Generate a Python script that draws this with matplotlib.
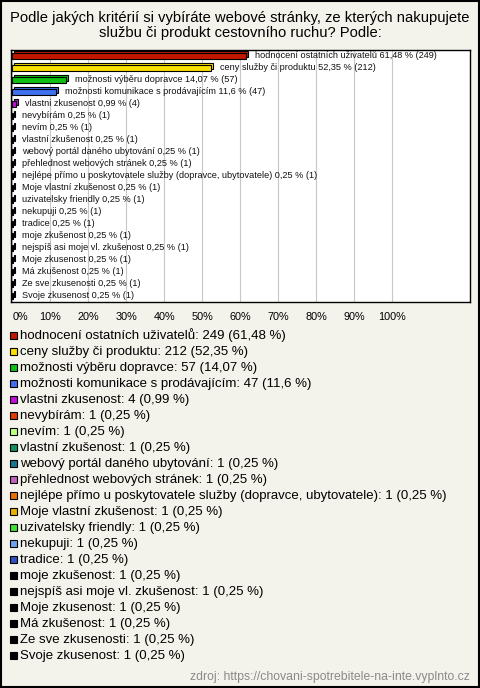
import matplotlib
matplotlib.use("Agg")
import matplotlib.pyplot as plt
from matplotlib.patches import Rectangle
import matplotlib.transforms as mtransforms

plt.rcParams['font.family'] = ['Liberation Sans', 'DejaVu Sans']

title_lines = ["Podle jakých kritérií si vybíráte webové stránky, ze kterých nakupujete",
               "službu či produkt cestovního ruchu? Podle:"]

labels = ["hodnocení ostatních uživatelů", "ceny služby či produktu",
          "možnosti výběru dopravce", "možnosti komunikace s prodávajícím",
          "vlastni zkusenost", "nevybírám", "nevím", "vlastní zkušenost",
          "webový portál daného ubytování", "přehlednost webových stránek",
          "nejlépe přímo u poskytovatele služby (dopravce, ubytovatele)",
          "Moje vlastní zkušenost", "uzivatelsky friendly", "nekupuji", "tradice",
          "moje zkušenost", "nejspíš asi moje vl. zkušenost", "Moje zkusenost",
          "Má zkušenost", "Ze sve zkusenosti", "Svoje zkusenost"]
counts = [249, 212, 57, 47, 4] + [1] * 16
percents = [61.48, 52.35, 14.07, 11.6, 0.99] + [0.25] * 16
colors = ["#c01800", "#f8e000", "#10c010", "#4070f0", "#c010d8", "#e03c00",
          "#c0ff80", "#109060", "#187890", "#c060c0", "#e87000", "#e8b000",
          "#40e030", "#70a0f0", "#3050c0"] + ["#000000"] * 6
xticks = list(range(0, 101, 10))
source = "zdroj: https://chovani-spotrebitele-na-inte.vyplnto.cz"


def fmt(p):
    return ("%.2f" % p).rstrip('0').rstrip('.').replace('.', ',')


W, H = 480, 688
fig = plt.figure(figsize=(W / 100, H / 100), dpi=100)
fig.patch.set_facecolor('#f4f3eb')

# overlay in pixel coordinates for title, legend, source, border
bg = fig.add_axes([0, 0, 1, 1])
bg.set_xlim(0, W)
bg.set_ylim(H, 0)
bg.axis('off')
bg.add_patch(Rectangle((0.75, 0.75), W - 1.5, H - 1.5, fill=False, ec='black', lw=1.5))
bg.text(240, 18, title_lines[0], ha='center', va='center', fontsize=10.6)
bg.text(240, 33, title_lines[1], ha='center', va='center', fontsize=10.6)

# bar chart
ax = fig.add_axes([11 / W, 1 - 302 / H, 459 / W, 252 / H])
ax.set_facecolor('white')
ypos = list(range(len(labels)))
depth = mtransforms.ScaledTranslation(2 / 100, 2 / 100, fig.dpi_scale_trans)
ax.barh(ypos, percents, height=0.42, color=colors, edgecolor='black', lw=0.8,
        transform=ax.transData + depth, zorder=2)
ax.barh(ypos, percents, height=0.42, color=colors, edgecolor='black', lw=0.8, zorder=3)
for y, lab, p, c in zip(ypos, labels, percents, counts):
    ax.annotate("%s %s %% (%d)" % (lab, fmt(p), c), xy=(p, y), xytext=(9, 1),
                textcoords='offset pixels', va='center', ha='left', fontsize=6.6,
                color='#111111')
ax.set_xlim(-0.3, 120.5)
ax.set_ylim(len(labels) - 0.5, -0.5)
ax.set_xticks(xticks)
ax.set_xticklabels(["%d%%" % t for t in xticks], fontsize=7.8)
ax.get_xticklabels()[0].set_horizontalalignment('left')
ax.set_yticks([])
ax.tick_params(axis='x', length=0, pad=7)
ax.grid(axis='x', color='#c8c8c8', lw=0.8, zorder=0)
ax.set_axisbelow(True)
for s in ax.spines.values():
    s.set_linewidth(1.0)

# legend
for i, (lab, p, c, col) in enumerate(zip(labels, percents, counts, colors)):
    y = 335.5 + 16 * i
    bg.add_patch(Rectangle((10, y - 3.5), 7, 7, fc=col, ec='black', lw=0.8))
    bg.text(20, y, "%s: %d (%s %%)" % (lab, c, fmt(p)), va='center', ha='left', fontsize=9.5)

bg.text(470, 677, source, ha='right', va='center', fontsize=8.8, color='#8a8a8a')

fig.savefig("out.png", dpi=100, facecolor=fig.get_facecolor())
